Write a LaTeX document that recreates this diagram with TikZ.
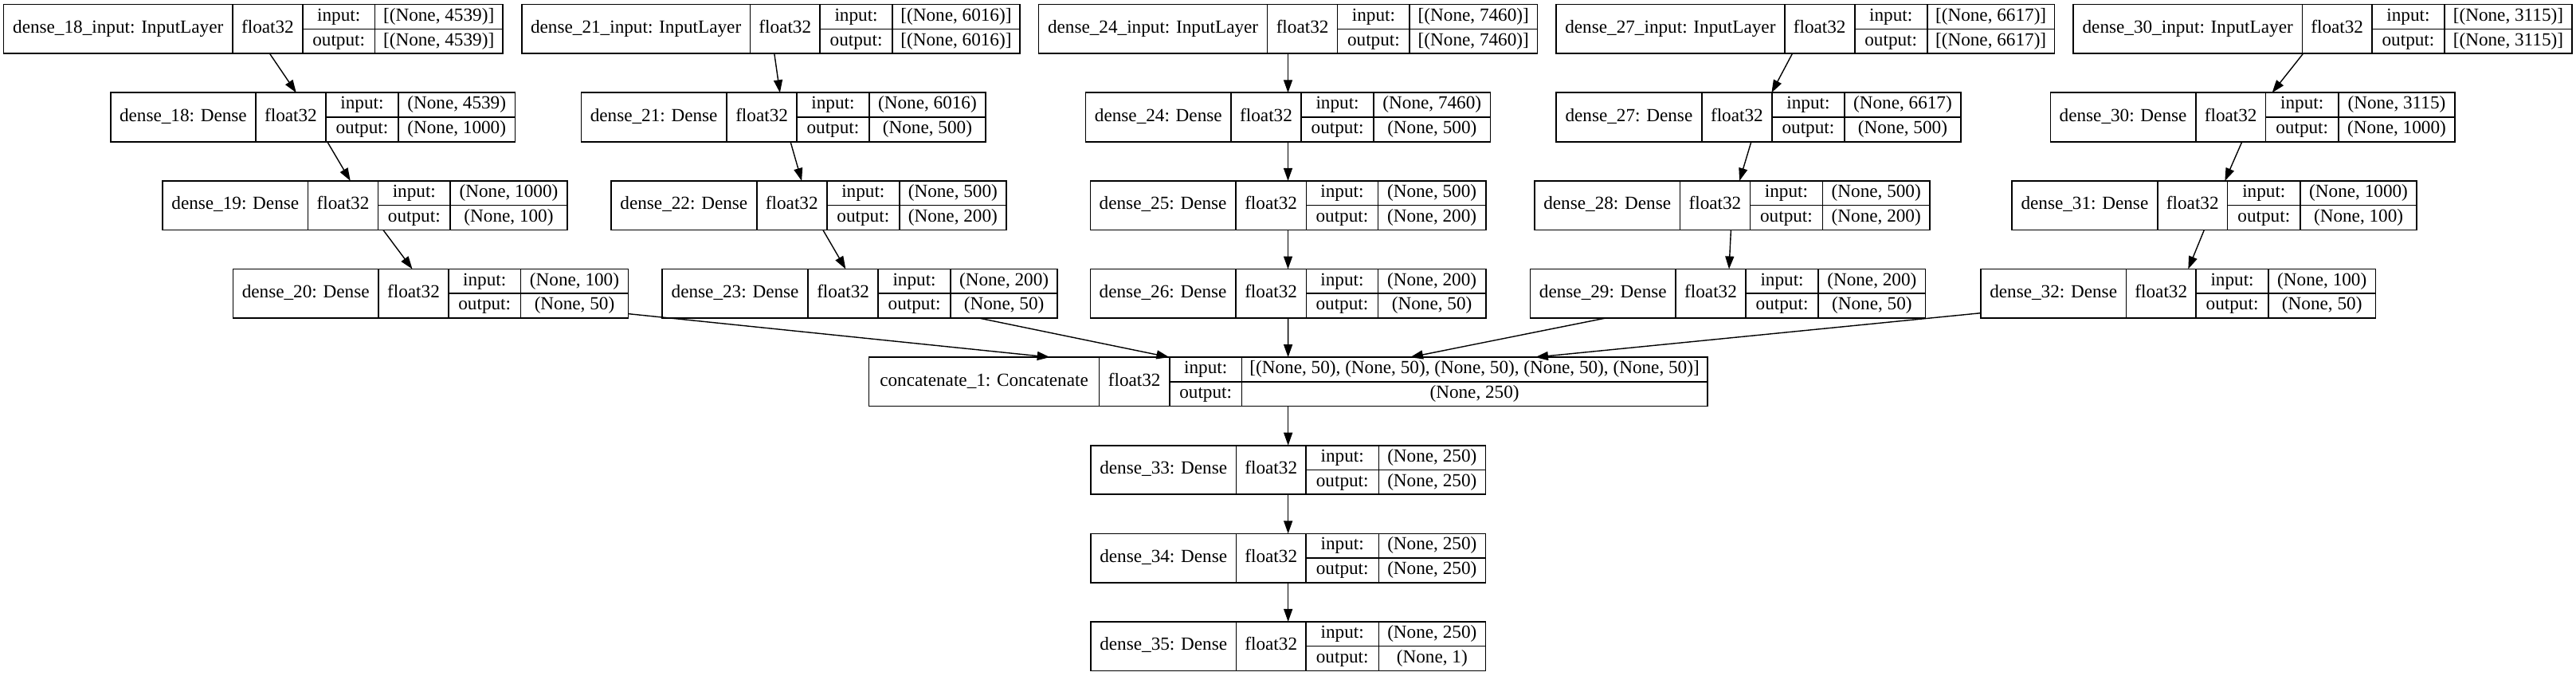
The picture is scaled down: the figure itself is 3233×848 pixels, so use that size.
\documentclass[tikz,border=0pt]{standalone}
\usepackage{fontspec}
\setmainfont{Liberation Serif}
\usetikzlibrary{arrows.meta}
\tikzset{
  kbox/.style={draw=black, line width=1.6pt, rectangle, inner sep=0pt, outer sep=0pt, minimum height=61.5pt},
  kline/.style={draw=black, line width=1.6pt},
  ktxt/.style={anchor=base, inner sep=0pt, font=\fontsize{23.2}{27}\selectfont},
  karrow/.style={draw=black, line width=1.4pt, -{Triangle[length=16pt,width=11pt]}}
}
\newcommand\kbox[7]{%
  \pgfmathsetmacro\kT{5.7+110.6*#7}%
  \xdef\kL{#2}\xdef\kA{#3}\xdef\kB{#4}\xdef\kC{#5}\xdef\kR{#6}%
  \node[kbox, minimum width={(#6-#2)*1pt}] (#1) at ({(#2+#6)/2},{\kT+30.75}) {};
  \draw[kline] ({#3},{\kT}) -- ({#3},{\kT+61.5});
  \draw[kline] ({#4},{\kT}) -- ({#4},{\kT+61.5});
  \draw[kline] ({#5},{\kT}) -- ({#5},{\kT+61.5});
  \draw[kline] ({#4},{\kT+30.75}) -- ({#6},{\kT+30.75});
}
\newcommand\ktext[4]{%
  \node[ktxt] (#1-name) at ({(\kL+\kA)/2},{\kT+36.05}) {#2};
  \node[ktxt] (#1-type) at ({(\kA+\kB)/2},{\kT+36.05}) {float32};
  \node[ktxt] (#1-il) at ({(\kB+\kC)/2},{\kT+20.675}) {input:};
  \node[ktxt] (#1-ol) at ({(\kB+\kC)/2},{\kT+51.425}) {output:};
  \node[ktxt] (#1-iv) at ({(\kC+\kR)/2},{\kT+20.675}) {#3};
  \node[ktxt] (#1-ov) at ({(\kC+\kR)/2},{\kT+51.425}) {#4};
}
\begin{document}
\begin{tikzpicture}[x=1pt, y=-1pt]
\useasboundingbox (0,0) rectangle (3233,848);
% column 1
\kbox{in18}{4.5}{292}{379.9}{470.5}{630.8}{0}
\ktext{in18}{dense\_18\_input: InputLayer}{[(None, 4539)]}{[(None, 4539)]}
\kbox{d18}{138.8}{321}{408.9}{500}{646.4}{1}
\ktext{d18}{dense\_18: Dense}{(None, 4539)}{(None, 1000)}
\kbox{d19}{204}{386.6}{474.5}{565.2}{711.8}{2}
\ktext{d19}{dense\_19: Dense}{(None, 1000)}{(None, 100)}
\kbox{d20}{292.4}{475}{563}{653.5}{788.5}{3}
\ktext{d20}{dense\_20: Dense}{(None, 100)}{(None, 50)}
% column 2
\kbox{in21}{654.9}{941.4}{1029.2}{1120}{1279.9}{0}
\ktext{in21}{dense\_21\_input: InputLayer}{[(None, 6016)]}{[(None, 6016)]}
\kbox{d21}{729.3}{912}{1000.2}{1090.7}{1237.2}{1}
\ktext{d21}{dense\_21: Dense}{(None, 6016)}{(None, 500)}
\kbox{d22}{767}{949.7}{1037.9}{1128.8}{1262.9}{2}
\ktext{d22}{dense\_22: Dense}{(None, 500)}{(None, 200)}
\kbox{d23}{831.2}{1014}{1102.2}{1193}{1327.2}{3}
\ktext{d23}{dense\_23: Dense}{(None, 200)}{(None, 50)}
% column 3
\kbox{in24}{1303.6}{1590.6}{1678.6}{1769.2}{1929.4}{0}
\ktext{in24}{dense\_24\_input: InputLayer}{[(None, 7460)]}{[(None, 7460)]}
\kbox{d24}{1362.5}{1545.1}{1633}{1724.1}{1870.5}{1}
\ktext{d24}{dense\_24: Dense}{(None, 7460)}{(None, 500)}
\kbox{d25}{1368.3}{1550.9}{1639.3}{1729.5}{1864.7}{2}
\ktext{d25}{dense\_25: Dense}{(None, 500)}{(None, 200)}
\kbox{d26}{1368.3}{1550.9}{1639.3}{1729.5}{1864.7}{3}
\ktext{d26}{dense\_26: Dense}{(None, 200)}{(None, 50)}
% column 4
\kbox{in27}{1953.1}{2239.7}{2327.7}{2418.7}{2578.5}{0}
\ktext{in27}{dense\_27\_input: InputLayer}{[(None, 6617)]}{[(None, 6617)]}
\kbox{d27}{1953.1}{2135.7}{2224.1}{2314.7}{2461.1}{1}
\ktext{d27}{dense\_27: Dense}{(None, 6617)}{(None, 500)}
\kbox{d28}{1925.9}{2108.5}{2196.4}{2287.5}{2421.9}{2}
\ktext{d28}{dense\_28: Dense}{(None, 500)}{(None, 200)}
\kbox{d29}{1920.5}{2103.1}{2191}{2282.1}{2416.5}{3}
\ktext{d29}{dense\_29: Dense}{(None, 200)}{(None, 50)}
% column 5
\kbox{in30}{2601.9}{2889.4}{2976.9}{3068}{3227.9}{0}
\ktext{in30}{dense\_30\_input: InputLayer}{[(None, 3115)]}{[(None, 3115)]}
\kbox{d30}{2573.4}{2755.7}{2843.6}{2934.8}{3081.1}{1}
\ktext{d30}{dense\_30: Dense}{(None, 3115)}{(None, 1000)}
\kbox{d31}{2524.8}{2708}{2795.5}{2887.1}{3033}{2}
\ktext{d31}{dense\_31: Dense}{(None, 1000)}{(None, 100)}
\kbox{d32}{2486}{2668.3}{2756.2}{2846.9}{2981.5}{3}
\ktext{d32}{dense\_32: Dense}{(None, 100)}{(None, 50)}
% merge and tail
\kbox{cat}{1090.5}{1379.5}{1467.9}{1558.4}{2142.8}{4}
\ktext{cat}{concatenate\_1: Concatenate}{[(None, 50), (None, 50), (None, 50), (None, 50), (None, 50)]}{(None, 250)}
\kbox{d33}{1369}{1551.4}{1639.1}{1730.3}{1864.3}{5}
\ktext{d33}{dense\_33: Dense}{(None, 250)}{(None, 250)}
\kbox{d34}{1369}{1551.4}{1639.1}{1730.3}{1864.3}{6}
\ktext{d34}{dense\_34: Dense}{(None, 250)}{(None, 250)}
\kbox{d35}{1369}{1551.4}{1639.1}{1730.3}{1864.3}{7}
\ktext{d35}{dense\_35: Dense}{(None, 250)}{(None, 1)}
% edges
\draw[karrow] (in18) -- (d18);
\draw[karrow] (d18) -- (d19);
\draw[karrow] (d19) -- (d20);
\draw[karrow] (in21) -- (d21);
\draw[karrow] (d21) -- (d22);
\draw[karrow] (d22) -- (d23);
\draw[karrow] (in24) -- (d24);
\draw[karrow] (d24) -- (d25);
\draw[karrow] (d25) -- (d26);
\draw[karrow] (in27) -- (d27);
\draw[karrow] (d27) -- (d28);
\draw[karrow] (d28) -- (d29);
\draw[karrow] (in30) -- (d30);
\draw[karrow] (d30) -- (d31);
\draw[karrow] (d31) -- (d32);
\draw[karrow] (d20) -- (cat);
\draw[karrow] (d23) -- (cat);
\draw[karrow] (d26) -- (cat);
\draw[karrow] (d29) -- (cat);
\draw[karrow] (d32) -- (cat);
\draw[karrow] (cat) -- (d33);
\draw[karrow] (d33) -- (d34);
\draw[karrow] (d34) -- (d35);
\end{tikzpicture}
\end{document}
